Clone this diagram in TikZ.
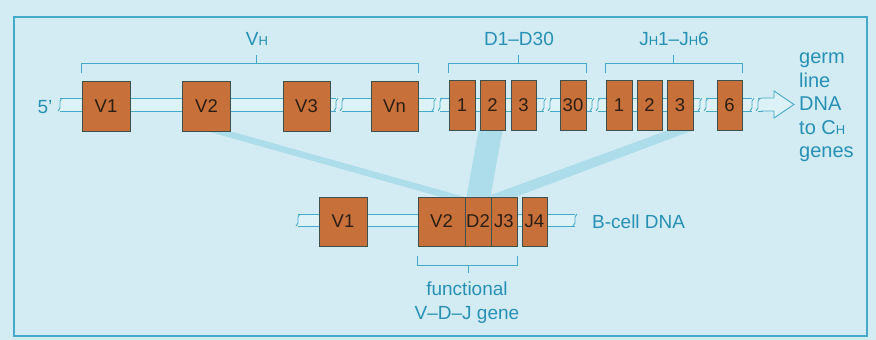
\documentclass[tikz,border=0pt]{standalone}
\usepackage{fontspec}
\setmainfont{Liberation Sans}
\usetikzlibrary{calc}
\pgfdeclarelayer{back}
\pgfdeclarelayer{canvas}
\pgfsetlayers{canvas,back,main}
\definecolor{bgc}{HTML}{D3ECF3}
\definecolor{lineblue}{HTML}{45A9C9}
\definecolor{textblue}{HTML}{2790B5}
\definecolor{tubefill}{HTML}{DDF2F7}
\definecolor{bandc}{HTML}{ADDCEA}
\definecolor{boxfill}{HTML}{C8703A}
\definecolor{boxline}{HTML}{3D5050}
\definecolor{boxtext}{HTML}{2B1E14}
\newcommand\smH{{\fontsize{13}{13}\selectfont H}}
\newcommand\Smark[3]{\draw[tubeline] ({#1+2},#2) .. controls ({#1-3},{#2+4}) and ({#1+3},{#3-4}) .. ({#1-2},#3);}
\newcommand\dnabreak[3]{%
  \fill[tubefill] ({#1-3},{#2-0.6}) rectangle ({#1+3},{#3+0.6});
  \Smark{#1-3}{#2}{#3}\Smark{#1+3}{#2}{#3}}
\tikzset{
  gbox/.style={draw=boxline, fill=boxfill, line width=0.9pt, inner sep=0pt,
    font=\fontsize{18.5}{18.5}\selectfont, text=boxtext, minimum height=50pt},
  tubeline/.style={draw=lineblue, line width=0.9pt},
  bracket/.style={draw=lineblue, line width=1pt},
  lbl/.style={text=textblue, inner sep=0pt, font=\fontsize{19}{23.5}\selectfont},
  band/.style={fill=bandc}
}
\begin{document}
\begin{tikzpicture}[x=1pt,y=-1pt]
\useasboundingbox (0,0) rectangle (876,340);
\begin{pgfonlayer}{canvas}
\fill[bgc] (0,0) rectangle (876,340);
\draw[lineblue, line width=1.1pt] (14,17) rectangle (867,336);
\end{pgfonlayer}

% top row boxes
\node[gbox, minimum width=48pt] (tV1) at (106,106) {V1};
\node[gbox, minimum width=48pt] (tV2) at (206.5,106) {V2};
\node[gbox, minimum width=47pt] (tV3) at (306.5,106) {V3};
\node[gbox, minimum width=47pt] (tVn) at (394.5,106) {Vn};
\node[gbox, minimum width=26pt] (tD1) at (462,105) {1};
\node[gbox, minimum width=25pt] (tD2) at (492.5,105) {2};
\node[gbox, minimum width=25pt] (tD3) at (523.5,105) {3};
\node[gbox, minimum width=26pt] (tD30) at (573,105) {30};
\node[gbox, minimum width=26pt] (tJ1) at (619,105) {1};
\node[gbox, minimum width=25pt] (tJ2) at (649.5,105) {2};
\node[gbox, minimum width=26pt] (tJ3) at (680,105) {3};
\node[gbox, minimum width=25pt] (tJ6) at (729.5,105) {6};

% bottom row boxes
\node[gbox, minimum width=48pt, minimum height=49pt] (bV1) at (343,221.5) {V1};
\node[gbox, minimum width=47pt, minimum height=49pt] (bV2) at (441.5,221.5) {V2};
\node[gbox, minimum width=26pt, minimum height=49pt] (bD2) at (478,221.5) {D2};
\node[gbox, minimum width=26pt, minimum height=49pt] (bJ3) at (504,221.5) {J3};
\node[gbox, minimum width=25pt, minimum height=49pt] (bJ4) at (534.5,221.5) {J4};

\begin{pgfonlayer}{back}
  % bands linking germ-line segments to the rearranged gene
  \fill[band] ([xshift=-23pt]tV2.south east) -- (tV2.south east) -- ([xshift=-2pt]bV2.north east) -- ([xshift=-26pt]bV2.north east) -- cycle;
  \fill[band] ([xshift=-1pt]tD2.south west) -- ([xshift=-3pt]tD2.south east) -- ([xshift=-1pt]bD2.north east) -- ([xshift=2pt]bD2.north west) -- cycle;
  \fill[band] ([xshift=1pt]tJ3.south west) -- ([xshift=-1pt]tJ3.south east) -- ([xshift=-1pt]bJ3.north east) -- ([xshift=-4pt]bJ3.north west) -- cycle;

  % germ-line DNA tube
  \coordinate (tubeL) at (60,98);
  \coordinate (tubeR) at (763,111);
  \fill[tubefill] (tubeL) rectangle (tubeR);
  \draw[tubeline] (tubeL) -- (tubeL -| tubeR);
  \draw[tubeline] (tubeL |- tubeR) -- (tubeR);
  \Smark{60}{98}{111}
  \dnabreak{339}{98}{111}
  \dnabreak{437}{98}{111}
  \dnabreak{547}{98}{111}
  \dnabreak{595}{98}{111}
  \dnabreak{703}{98}{111}
  \dnabreak{755}{98}{111}
  % hollow arrow
  \filldraw[tubeline, fill=tubefill, line join=miter] (761,98) -- (774,98) -- (774,91) -- (794,104.5) -- (774,118) -- (774,111) -- (761,111);

  % B-cell DNA tube
  \coordinate (btL) at (298,214);
  \coordinate (btR) at (575,226);
  \fill[tubefill] (btL) rectangle (btR);
  \draw[tubeline] (btL) -- (btL -| btR);
  \draw[tubeline] (btL |- btR) -- (btR);
  \Smark{298}{214}{226}
  \Smark{575}{214}{226}
\end{pgfonlayer}

% brackets
\draw[bracket] (tV1.west |- 0,73) -- (tV1.west |- 0,63) -- (tVn.east |- 0,63) -- (tVn.east |- 0,73);
\draw[bracket] (256,63) -- (256,55);
\draw[bracket] (tD1.west |- 0,73) -- (tD1.west |- 0,63) -- (tD30.east |- 0,63) -- (tD30.east |- 0,73);
\draw[bracket] (518,63) -- (518,55);
\draw[bracket] (tJ1.west |- 0,73) -- (tJ1.west |- 0,63) -- (tJ6.east |- 0,63) -- (tJ6.east |- 0,73);
\draw[bracket] (673,63) -- (673,55);
\draw[bracket] (bV2.west |- 0,256) -- (bV2.west |- 0,265) -- (bJ3.east |- 0,265) -- (bJ3.east |- 0,256);
\draw[bracket] (468,265) -- (468,273);

% labels
\node[lbl] (lVH) at (257,39) {V\smH};
\node[lbl] (lD) at (519,39) {D1–D30};
\node[lbl] (lJ) at (674,39) {J\smH1–J\smH6};
\node[lbl] (l5) at (45,107) {5'};
\node[lbl, anchor=west] (lB) at (592,222) {B-cell DNA};
\node[lbl, align=center] (lF) at (467,304) {functional\\V–D–J gene\strut};
\node[lbl, anchor=west, align=left, font=\fontsize{20}{23.5}\selectfont] (lG) at (799,106) {\strut germ\\line\\DNA\\to C\smH\\genes\strut};
\end{tikzpicture}
\end{document}
